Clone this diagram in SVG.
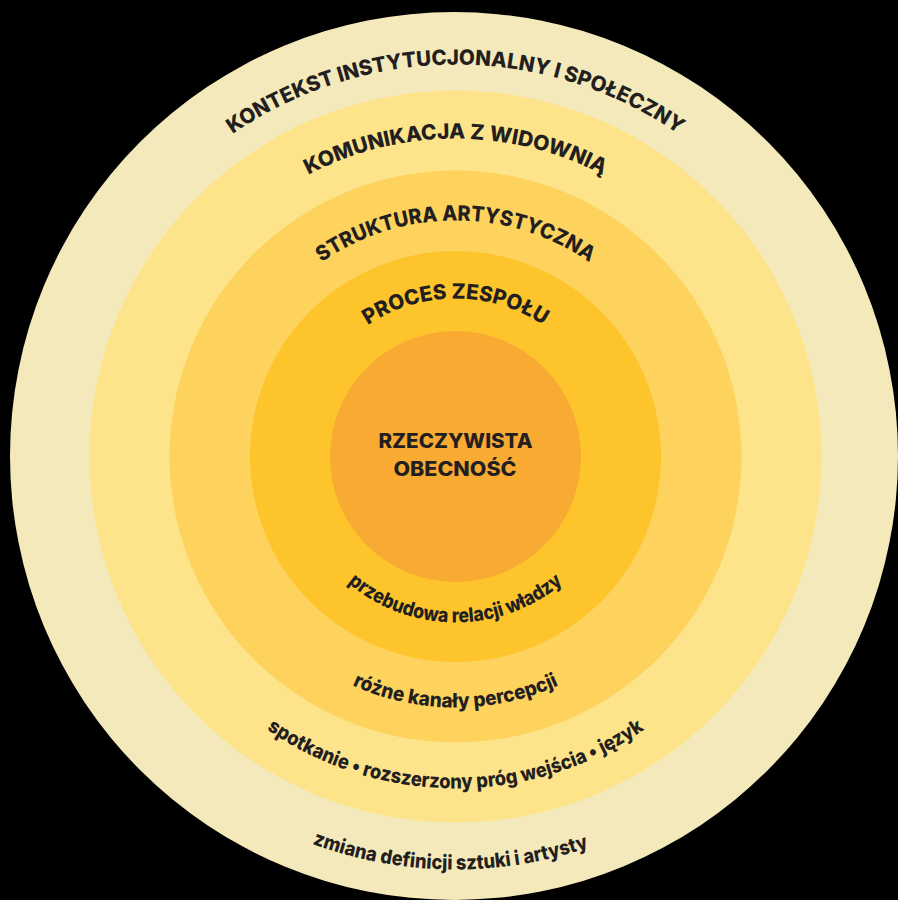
<svg xmlns="http://www.w3.org/2000/svg" width="898" height="900" viewBox="0 0 898 900">
<style>
.t{font-family:Inter,"Liberation Sans",sans-serif;font-weight:800;fill:#231f20;}
.up{font-size:21px;}
.lo{font-size:20px;}
</style>
<defs>
<path id="pKon" d="M63.5,456.5 A392,392 0 0 1 847.5,456.5"/>
<path id="pKom" d="M137.5,456.5 A318,318 0 0 1 773.5,456.5"/>
<path id="pStr" d="M219.5,456.5 A236,236 0 0 1 691.5,456.5"/>
<path id="pPro" d="M297.5,456.5 A158,158 0 0 1 613.5,456.5"/>
<path id="pPrz" d="M289.5,456.5 A166,166 0 0 0 621.5,456.5"/>
<path id="pRoz" d="M204.5,456.5 A251,251 0 0 0 706.5,456.5"/>
<path id="pSpo" d="M123.5,456.5 A332,332 0 0 0 787.5,456.5"/>
<path id="pZmi" d="M42.5,456.5 A413,413 0 0 0 868.5,456.5"/>
</defs>
<rect width="898" height="900" fill="#000"/>
<g id="ring-kontekst">
<circle cx="454" cy="456" r="444" fill="#f4e9ba"/>
<text class="t up" font-size="23"><textPath href="#pKon" startOffset="50%" text-anchor="middle" textLength="474" lengthAdjust="spacingAndGlyphs">KONTEKST INSTYTUCJONALNY I SPOŁECZNY</textPath></text>
<text class="t lo"><textPath href="#pZmi" startOffset="49.6%" text-anchor="middle" textLength="282" lengthAdjust="spacingAndGlyphs">zmiana definicji sztuki i artysty</textPath></text>
</g>
<g id="ring-komunikacja">
<circle cx="455.5" cy="456.5" r="366" fill="#fde38a"/>
<text class="t up"><textPath href="#pKom" startOffset="50%" text-anchor="middle" textLength="306" lengthAdjust="spacingAndGlyphs">KOMUNIKACJA Z WIDOWNIĄ</textPath></text>
<text class="t lo"><textPath href="#pSpo" startOffset="50%" text-anchor="middle" textLength="402" lengthAdjust="spacingAndGlyphs">spotkanie • rozszerzony próg wejścia • język</textPath></text>
</g>
<g id="ring-struktura">
<circle cx="455.5" cy="456.5" r="286" fill="#fdd35e"/>
<text class="t up"><textPath href="#pStr" startOffset="50%" text-anchor="middle" textLength="285" lengthAdjust="spacingAndGlyphs">STRUKTURA ARTYSTYCZNA</textPath></text>
<text class="t lo"><textPath href="#pRoz" startOffset="50%" text-anchor="middle" textLength="213" lengthAdjust="spacingAndGlyphs">różne kanały percepcji</textPath></text>
</g>
<g id="ring-proces">
<circle cx="455.5" cy="456.5" r="205.5" fill="#fdc42b"/>
<text class="t up"><textPath href="#pPro" startOffset="50%" text-anchor="middle" textLength="186" lengthAdjust="spacingAndGlyphs">PROCES ZESPOŁU</textPath></text>
<text class="t lo"><textPath href="#pPrz" startOffset="50%" text-anchor="middle" textLength="234" lengthAdjust="spacingAndGlyphs">przebudowa relacji władzy</textPath></text>
</g>
<g id="core">
<circle cx="455.5" cy="456.5" r="125.5" fill="#f9aa32"/>
<text class="t" font-size="20" text-anchor="middle"><tspan x="455.5" y="448" textLength="154" lengthAdjust="spacingAndGlyphs">RZECZYWISTA</tspan><tspan x="455" y="476" textLength="123" lengthAdjust="spacingAndGlyphs">OBECNOŚĆ</tspan></text>
</g>
</svg>
